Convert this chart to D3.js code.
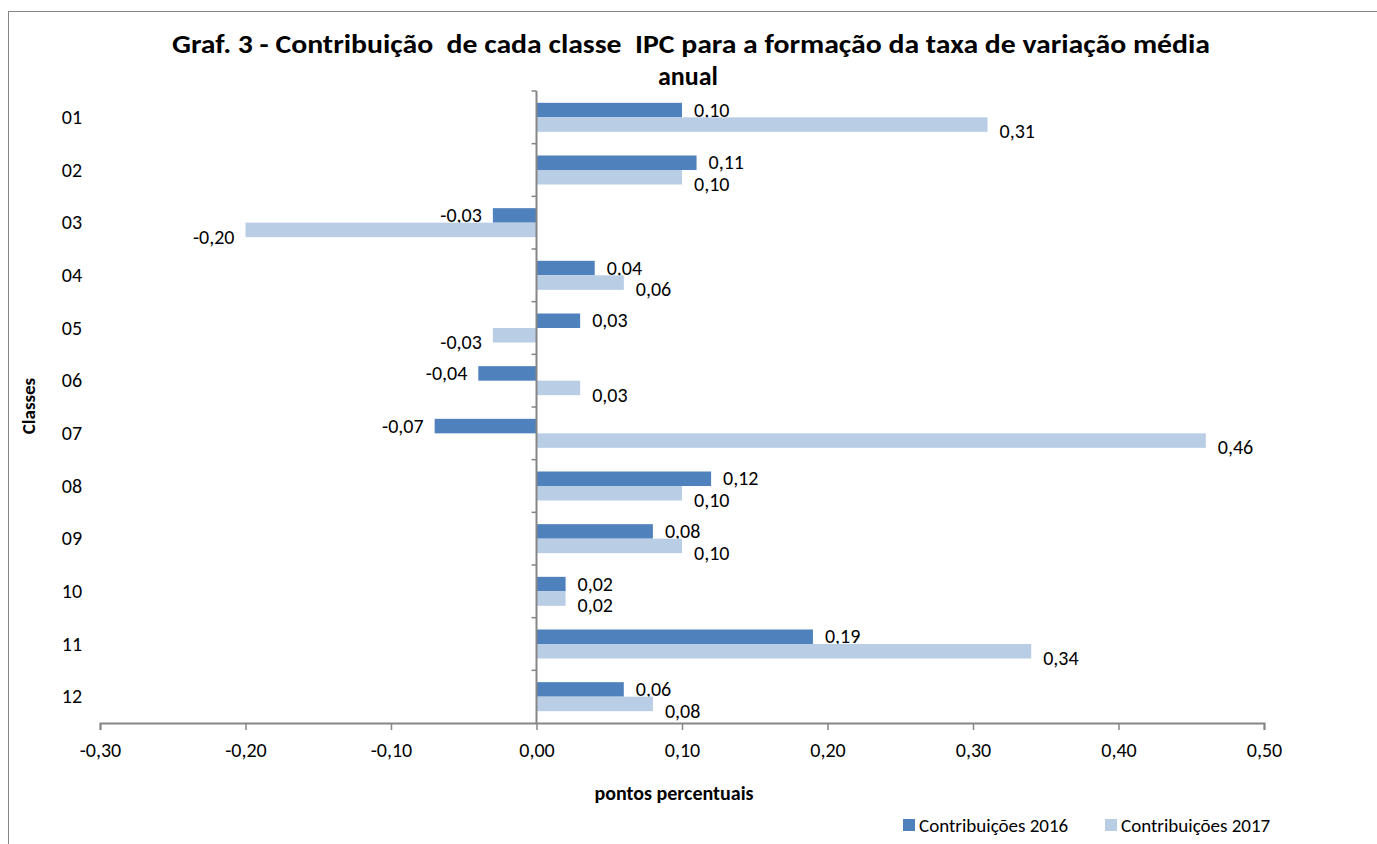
<!DOCTYPE html>
<html lang="pt">

<head>
    <meta charset="utf-8">
    <title>Graf. 3 - Contribuição de cada classe IPC</title>
    <script type="text/javascript" src="https://cdn.jsdelivr.net/npm/d3@7"></script>
    <style>
        body {
            margin: 0;
            background: #fff;
        }

        text {
            font-family: Carlito, Calibri, "Open Sans", sans-serif;
            fill: #000;
        }
    </style>
</head>

<body>
    <script type="text/javascript">
        // Data -------------------------------------------------
        var classes = ["01", "02", "03", "04", "05", "06", "07", "08", "09", "10", "11", "12"];
        var contrib2016 = [0.10, 0.11, -0.03, 0.04, 0.03, -0.04, -0.07, 0.12, 0.08, 0.02, 0.19, 0.06];
        var contrib2017 = [0.31, 0.10, -0.20, 0.06, -0.03, 0.03, 0.46, 0.10, 0.10, 0.02, 0.34, 0.08];
        var seriesNames = ["Contribuições 2016", "Contribuições 2017"];
        var xTicks = [-0.30, -0.20, -0.10, 0.00, 0.10, 0.20, 0.30, 0.40, 0.50];

        var w = 1377;
        var h = 844;
        var colors = ["#4F81BD", "#B9CDE5"];
        var axisColor = "#868686";

        var svg = d3.select("body")
            .append("svg")
            .attr("width", w)
            .attr("height", h);

        // chart frame (cropped on the right and bottom)
        svg.append("rect")
            .attr("x", 8.5)
            .attr("y", 11.5)
            .attr("width", 1500)
            .attr("height", 1000)
            .attr("fill", "none")
            .attr("stroke", axisColor)
            .attr("stroke-width", 1);

        // Scales ------------------------------------------------
        var xScale = d3.scaleLinear()
            .domain([-0.30, 0.50])
            .range([100, 1264]);

        var yScale = d3.scaleBand()
            .domain(classes)
            .range([91, 723]);

        var barH = 14.5;

        var fmt = function(v) {
            return d3.format(".2f")(v).replace(".", ",").replace("−", "-");
        };

        // Bars --------------------------------------------------
        var series = [contrib2016, contrib2017];
        series.forEach(function(vals, s) {
            var g = svg.append("g");
            g.selectAll("rect")
                .data(vals)
                .enter()
                .append("rect")
                .attr("x", function(d) {
                    return xScale(Math.min(0, d));
                })
                .attr("y", function(d, i) {
                    return yScale(classes[i]) + yScale.bandwidth() / 2 - barH + s * barH;
                })
                .attr("width", function(d) {
                    return Math.abs(xScale(d) - xScale(0));
                })
                .attr("height", barH)
                .attr("fill", colors[s]);

            // data labels
            g.selectAll("text")
                .data(vals)
                .enter()
                .append("text")
                .text(function(d) {
                    return fmt(d);
                })
                .attr("x", function(d) {
                    return d >= 0 ? xScale(d) + 12 : xScale(d) - 11;
                })
                .attr("y", function(d, i) {
                    var c = yScale(classes[i]) + yScale.bandwidth() / 2;
                    return s === 0 ? c - barH / 2 : c + barH / 2 + 7;
                })
                .attr("dy", "0.33em")
                .attr("text-anchor", function(d) {
                    return d >= 0 ? "start" : "end";
                })
                .attr("font-size", "20px");
        });

        // Axes --------------------------------------------------
        var xAxis = d3.axisBottom(xScale)
            .tickValues(xTicks)
            .tickSize(7)
            .tickPadding(13)
            .tickFormat(fmt);

        var gx = svg.append("g")
            .attr("transform", "translate(0,723)")
            .call(xAxis);
        gx.select(".domain").attr("stroke", axisColor).attr("stroke-width", 2);
        gx.selectAll(".tick line").attr("stroke", axisColor).attr("stroke-width", 1.5);
        gx.selectAll(".tick text")
            .attr("font-size", "20px")
            .attr("fill", "#000");
        gx.attr("font-family", null).attr("font-size", null);

        // vertical axis at zero with ticks on category boundaries
        var gy = svg.append("g");
        gy.append("line")
            .attr("x1", xScale(0))
            .attr("x2", xScale(0))
            .attr("y1", yScale.range()[0])
            .attr("y2", yScale.range()[1])
            .attr("stroke", axisColor)
            .attr("stroke-width", 2);
        gy.selectAll("line.tk")
            .data(classes)
            .enter()
            .append("line")
            .attr("class", "tk")
            .attr("x1", xScale(0) - 5)
            .attr("x2", xScale(0))
            .attr("y1", function(d) {
                return yScale(d);
            })
            .attr("y2", function(d) {
                return yScale(d);
            })
            .attr("stroke", axisColor)
            .attr("stroke-width", 1.5);

        // category labels on the left
        svg.append("g")
            .selectAll("text")
            .data(classes)
            .enter()
            .append("text")
            .text(function(d) {
                return d;
            })
            .attr("x", 72)
            .attr("y", function(d) {
                return yScale(d) + yScale.bandwidth() / 2;
            })
            .attr("dy", "0.33em")
            .attr("text-anchor", "middle")
            .attr("font-size", "20px");

        // Titles ------------------------------------------------
        svg.append("text")
            .text("Graf. 3 - Contribuição  de cada classe  IPC para a formação da taxa de variação média")
            .attr("x", 691)
            .attr("y", 44)
            .attr("dy", "0.35em")
            .attr("text-anchor", "middle")
            .attr("font-weight", "bold")
            .attr("font-size", "26px")
            .attr("textLength", 1038)
            .attr("lengthAdjust", "spacingAndGlyphs")
            .style("white-space", "pre");

        svg.append("text")
            .text("anual")
            .attr("x", 688)
            .attr("y", 76)
            .attr("dy", "0.35em")
            .attr("text-anchor", "middle")
            .attr("font-weight", "bold")
            .attr("font-size", "26px");

        svg.append("text")
            .text("Classes")
            .attr("transform", "translate(28,406) rotate(-90)")
            .attr("dy", "0.35em")
            .attr("text-anchor", "middle")
            .attr("font-weight", "bold")
            .attr("font-size", "19px");

        svg.append("text")
            .text("pontos percentuais")
            .attr("x", 674)
            .attr("y", 793)
            .attr("dy", "0.35em")
            .attr("text-anchor", "middle")
            .attr("font-weight", "bold")
            .attr("font-size", "20px");

        // Legend ------------------------------------------------
        var legendX = [903, 1105];
        var legend = svg.append("g")
            .selectAll("g")
            .data(seriesNames)
            .enter()
            .append("g")
            .attr("transform", function(d, i) {
                return "translate(" + legendX[i] + ",825)";
            });
        legend.append("rect")
            .attr("x", 0)
            .attr("y", -6)
            .attr("width", 12)
            .attr("height", 12)
            .attr("fill", function(d, i) {
                return colors[i];
            });
        legend.append("text")
            .text(function(d) {
                return d;
            })
            .attr("x", 16)
            .attr("y", 0)
            .attr("dy", "0.35em")
            .attr("font-size", "19px");
    </script>

</body>

</html>
